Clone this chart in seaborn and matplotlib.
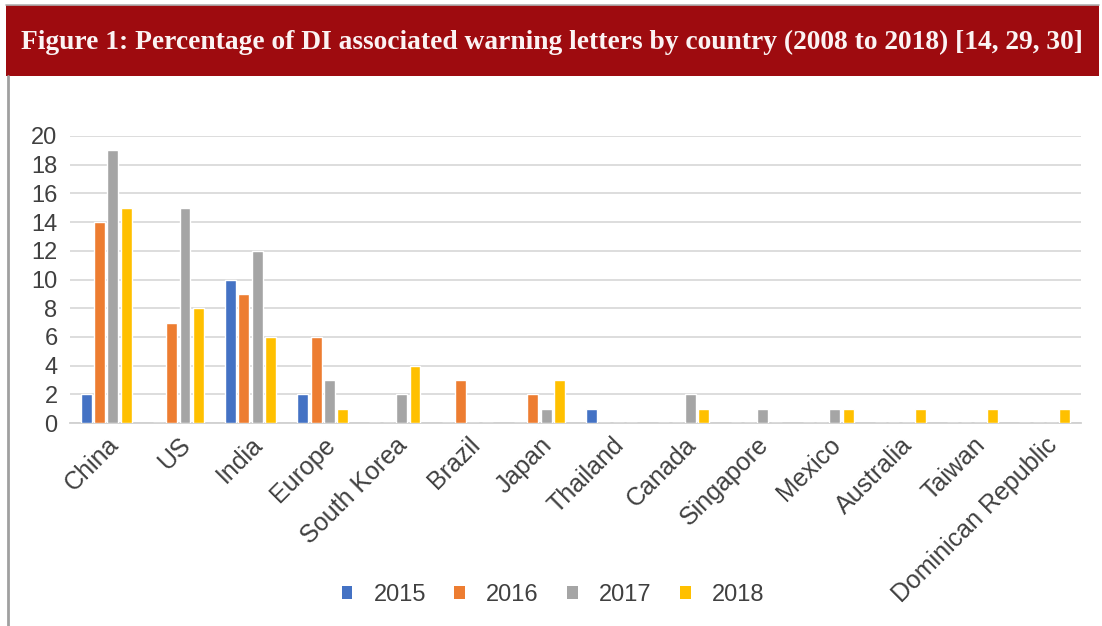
import matplotlib
matplotlib.use("Agg")
import matplotlib.pyplot as plt
from matplotlib.patches import Rectangle
from matplotlib.lines import Line2D
import seaborn as sns
import pandas as pd

countries = ["China", "US", "India", "Europe", "South Korea", "Brazil", "Japan",
             "Thailand", "Canada", "Singapore", "Mexico", "Australia", "Taiwan",
             "Dominican Republic"]
years = ["2015", "2016", "2017", "2018"]
v2015 = [2, 0, 10, 2, 0, 0, 0, 1, 0, 0, 0, 0, 0, 0]
v2016 = [14, 7, 9, 6, 0, 3, 2, 0, 0, 0, 0, 0, 0, 0]
v2017 = [19, 15, 12, 3, 2, 0, 1, 0, 2, 1, 1, 0, 0, 0]
v2018 = [15, 8, 6, 1, 4, 0, 3, 0, 1, 0, 1, 1, 1, 1]
yticks = [0, 2, 4, 6, 8, 10, 12, 14, 16, 18, 20]
title = "Figure 1: Percentage of DI associated warning letters by country (2008 to 2018) [14, 29, 30]"

colors = ["#4472C4", "#ED7D31", "#A5A5A5", "#FFC000"]

rows = []
for yr, vals in zip(years, [v2015, v2016, v2017, v2018]):
    for c, v in zip(countries, vals):
        rows.append({"country": c, "year": yr, "value": v})
df = pd.DataFrame(rows)

sns.set_theme(style="white")
plt.rcParams["font.family"] = ["Liberation Sans", "DejaVu Sans"]

fig = plt.figure(figsize=(11.02, 6.26), dpi=100)
W, H = 1102, 626

# header band
fig.patches.append(Rectangle((6 / W, 1 - 76 / H), 1093 / W, 71 / H,
                             transform=fig.transFigure, facecolor="#9E0B0F",
                             edgecolor="none", zorder=0))
fig.lines.append(Line2D([6 / W, 1099 / W], [1 - 4.5 / H, 1 - 4.5 / H],
                        transform=fig.transFigure, color="#B0B0B0", lw=1.2))
fig.lines.append(Line2D([7.5 / W, 7.5 / W], [0, 1 - 76 / H],
                        transform=fig.transFigure, color="#A0A0A0", lw=2))
fig.text(552 / W, 1 - 42 / H, title, ha="center", va="center", color="#FBF3F3",
         fontsize=19.8, fontweight="bold", family=["Liberation Serif"])

ax = fig.add_axes([70 / W, 1 - 423 / H, 1011 / W, 287 / H])
sns.barplot(data=df, x="country", y="value", hue="year", hue_order=years,
            palette=colors, width=0.74, gap=0.18, saturation=1, ax=ax,
            legend=False, zorder=3)

ax.set_ylim(0, 20)
ax.set_yticks(yticks)
ax.set_yticklabels([str(t) for t in yticks], fontsize=17, color="#404040")
ax.set_xlim(-0.5, len(countries) - 0.5)
ax.set_xticks(range(len(countries)))
ax.set_xticklabels(countries, rotation=45, ha="right", rotation_mode="anchor",
                   fontsize=18, color="#404040")
ax.tick_params(axis="y", length=0, pad=9)
ax.tick_params(axis="x", length=0, pad=7)
ax.set_xlabel("")
ax.set_ylabel("")
ax.grid(axis="y", color="#DADADA", lw=1.3, zorder=0)
for s in ["top", "right", "left"]:
    ax.spines[s].set_visible(False)
ax.spines["bottom"].set_color("#D0D0D0")
ax.spines["bottom"].set_linewidth(1.3)

handles = [Rectangle((0, 0), 1, 1, facecolor=c, edgecolor="none") for c in colors]
fig.legend(handles, years, loc="center", bbox_to_anchor=(553 / W, 1 - 595 / H),
           ncol=4, frameon=False, fontsize=17, handlelength=0.45, handleheight=0.45,
           columnspacing=1.2, handletextpad=0.9, labelcolor="#404040")

fig.savefig("out.png", dpi=100)
